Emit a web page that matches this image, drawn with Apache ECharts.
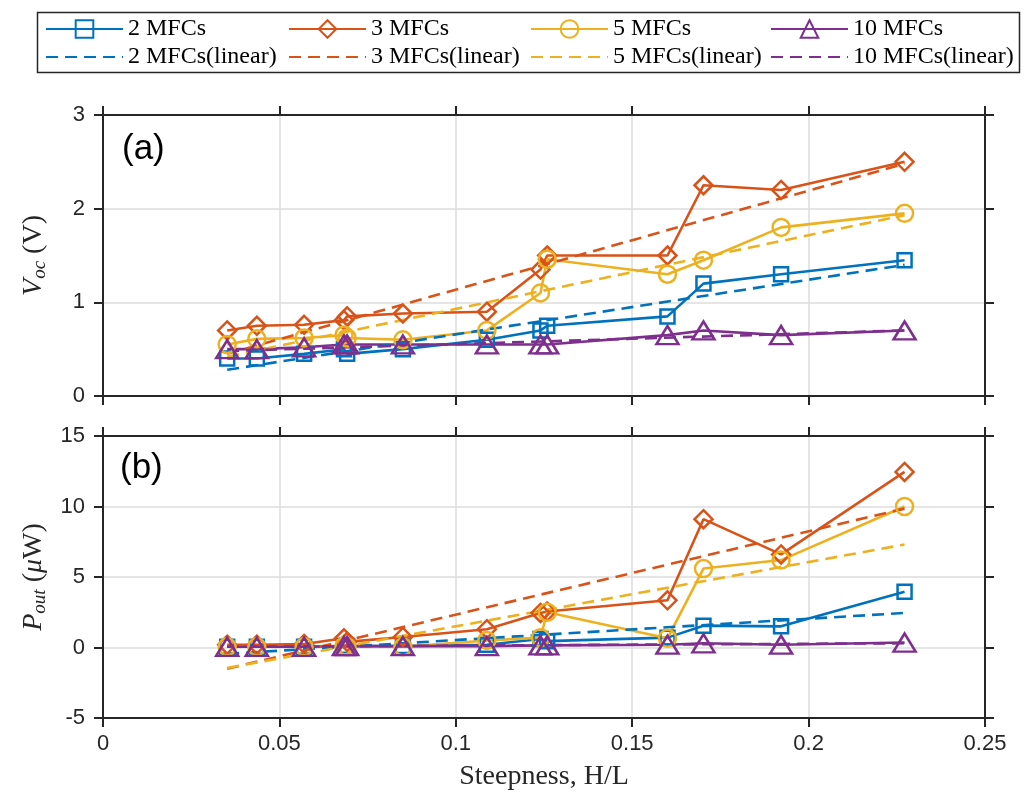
<!DOCTYPE html>
<html>
<head>
<meta charset="utf-8">
<script src="https://cdn.jsdelivr.net/npm/echarts@6/dist/echarts.min.js"></script>
<style>
  html, body { margin: 0; padding: 0; background: #fff; }
  #chart { width: 1027px; height: 794px; }
</style>
</head>
<body>
<div id="chart"></div>
<script>
// steepness H/L of each test
var steep = [0.0352, 0.0436, 0.0570, 0.0683, 0.0692, 0.0850, 0.1088, 0.1240, 0.1259, 0.1600, 0.1702, 0.1922, 0.2272];

// (a) open circuit voltage, V
var voc2 = [0.40, 0.40, 0.45, 0.50, 0.45, 0.50, 0.60, 0.70, 0.75, 0.85, 1.20, 1.30, 1.45];
var voc3 = [0.70, 0.75, 0.76, 0.81, 0.85, 0.88, 0.90, 1.35, 1.50, 1.50, 2.25, 2.20, 2.50];
var voc5 = [0.55, 0.61, 0.62, 0.65, 0.62, 0.60, 0.70, 1.10, 1.46, 1.30, 1.45, 1.80, 1.95];
var voc10 = [0.50, 0.50, 0.52, 0.55, 0.55, 0.55, 0.55, 0.55, 0.55, 0.65, 0.70, 0.65, 0.70];

// (b) output power, uW
var pout2 = [0.05, 0.05, 0.05, 0.10, 0.10, 0.10, 0.20, 0.60, 0.45, 0.70, 1.55, 1.50, 3.95];
var pout3 = [0.20, 0.20, 0.25, 0.65, 0.40, 0.75, 1.30, 2.45, 2.55, 3.35, 9.10, 6.60, 12.45];
var pout5 = [0.05, 0.05, 0.05, 0.10, 0.05, 0.05, 0.50, 0.70, 2.50, 0.65, 5.60, 6.20, 10.00];
var pout10 = [0.05, 0.05, 0.05, 0.10, 0.10, 0.10, 0.10, 0.15, 0.15, 0.20, 0.30, 0.20, 0.35];

// linear fits: value at first and last steepness
var fitX = [0.0352, 0.2272];
var vocFit2 = [0.28, 1.40];
var vocFit3 = [0.45, 2.48];
var vocFit5 = [0.42, 1.93];
var vocFit10 = [0.48, 0.70];
var poutFit2 = [-0.45, 2.45];
var poutFit3 = [-1.50, 9.85];
var poutFit5 = [-1.45, 7.30];
var poutFit10 = [0.05, 0.30];

var groups = ['2 MFCs', '3 MFCs', '5 MFCs', '10 MFCs'];
var colors = ['#0072BD', '#D95319', '#EDB120', '#7E2F8E'];
var marks = ['rect', 'diamond', 'circle', 'triangle'];
var markSize = [14, 18, 17, [22, 18]];

var ink = '#262626';
var serif = 'Liberation Serif';

function pairs(xs, ys) {
    return xs.map(function (x, i) { return [x, ys[i]]; });
}

function solid(i, ys, axis) {
    return {
        name: groups[i],
        type: 'line',
        xAxisIndex: axis, yAxisIndex: axis,
        data: pairs(steep, ys),
        symbol: marks[i],
        symbolSize: markSize[i],
        color: colors[i],
        lineStyle: { color: colors[i], width: 2.6 },
        itemStyle: { color: 'rgba(255,255,255,0)', borderColor: colors[i], borderWidth: 2.5 },
        emphasis: { disabled: true }
    };
}

function dashed(i, ys, axis) {
    return {
        name: groups[i] + '(linear)',
        type: 'line',
        xAxisIndex: axis, yAxisIndex: axis,
        data: pairs(fitX, ys),
        symbol: 'none',
        color: colors[i],
        lineStyle: { color: colors[i], width: 2.6, type: [12, 7] },
        itemStyle: { color: 'rgba(0,0,0,0)', borderWidth: 0 },
        emphasis: { disabled: true }
    };
}

function xAx(grid, pos, labels) {
    var a = {
        type: 'value', gridIndex: grid, position: pos,
        min: 0, max: 0.25, interval: 0.05,
        axisLine: { onZero: false, lineStyle: { color: ink, width: 2 } },
        axisTick: { length: 9, lineStyle: { color: ink, width: 2 } },
        axisLabel: { show: labels, color: ink, fontFamily: 'Liberation Sans', fontSize: 22, margin: 15 },
        splitLine: { show: pos == 'bottom', lineStyle: { color: '#dcdcdc', width: 1.5 } }
    };
    if (labels) {
        a.name = 'Steepness, H/L';
        a.nameLocation = 'middle';
        a.nameGap = 45;
        a.nameTextStyle = { fontFamily: serif, fontSize: 28, color: ink };
    }
    return a;
}

function yAx(grid, pos, min, max, step, name) {
    var a = {
        type: 'value', gridIndex: grid, position: pos,
        min: min, max: max, interval: step,
        axisLine: { onZero: false, lineStyle: { color: ink, width: 2 } },
        axisTick: { length: 9, lineStyle: { color: ink, width: 2 } },
        axisLabel: { show: pos == 'left', color: ink, fontFamily: 'Liberation Sans', fontSize: 22, margin: 18 },
        splitLine: { show: pos == 'left', lineStyle: { color: '#dcdcdc', width: 1.5 } }
    };
    if (name) {
        a.name = name;
        a.nameLocation = 'middle';
        a.nameGap = 54;
        a.nameRotate = 90;
        a.nameTextStyle = {
            color: ink,
            rich: {
                i: { fontFamily: serif, fontSize: 28, fontStyle: 'italic', lineHeight: 30, color: ink },
                s: { fontFamily: serif, fontSize: 19, fontStyle: 'italic', lineHeight: 19, verticalAlign: 'bottom', color: ink },
                n: { fontFamily: serif, fontSize: 28, lineHeight: 30, color: ink }
            }
        };
    }
    return a;
}

function legendCol(i, left) {
    return {
        orient: 'vertical', left: left, top: 15, padding: 0, itemGap: 0,
        itemWidth: 77, itemHeight: 22,
        selectedMode: false,
        textStyle: { fontFamily: serif, fontSize: 24, color: '#000', lineHeight: 28 },
        data: [groups[i], groups[i] + '(linear)']
    };
}

var myChart = echarts.init(document.getElementById('chart'));
var option = {
    animation: false,
    backgroundColor: '#fff',
    grid: [
        { left: 103, right: 42, top: 115, height: 281 },
        { left: 103, right: 42, top: 436, height: 282 }
    ],
    legend: [legendCol(0, 45), legendCol(1, 288), legendCol(2, 530), legendCol(3, 770)],
    graphic: [
        { type: 'rect', shape: { x: 37.5, y: 12.5, width: 982, height: 60 },
          style: { fill: 'none', stroke: ink, lineWidth: 1.5 }, z: 100 },
        { type: 'text', left: 122, top: 132, style: { text: '(a)', font: '35px Liberation Sans', fill: '#000' }, z: 100 },
        { type: 'text', left: 120, top: 451, style: { text: '(b)', font: '35px Liberation Sans', fill: '#000' }, z: 100 }
    ],
    xAxis: [xAx(0, 'bottom', false), xAx(0, 'top', false), xAx(1, 'bottom', true), xAx(1, 'top', false)],
    yAxis: [
        yAx(0, 'left', 0, 3, 1, '{i|V}{s|oc}{n| (V)}'),
        yAx(0, 'right', 0, 3, 1),
        yAx(1, 'left', -5, 15, 5, '{i|P}{s|out}{n| (}{i|μ}{n|W)}'),
        yAx(1, 'right', -5, 15, 5)
    ],
    series: [
        solid(0, voc2, 0), solid(1, voc3, 0), solid(2, voc5, 0), solid(3, voc10, 0),
        dashed(0, vocFit2, 0), dashed(1, vocFit3, 0), dashed(2, vocFit5, 0), dashed(3, vocFit10, 0),
        solid(0, pout2, 2), solid(1, pout3, 2), solid(2, pout5, 2), solid(3, pout10, 2),
        dashed(0, poutFit2, 2), dashed(1, poutFit3, 2), dashed(2, poutFit5, 2), dashed(3, poutFit10, 2)
    ]
};
myChart.setOption(option);
</script>
</body>
</html>
